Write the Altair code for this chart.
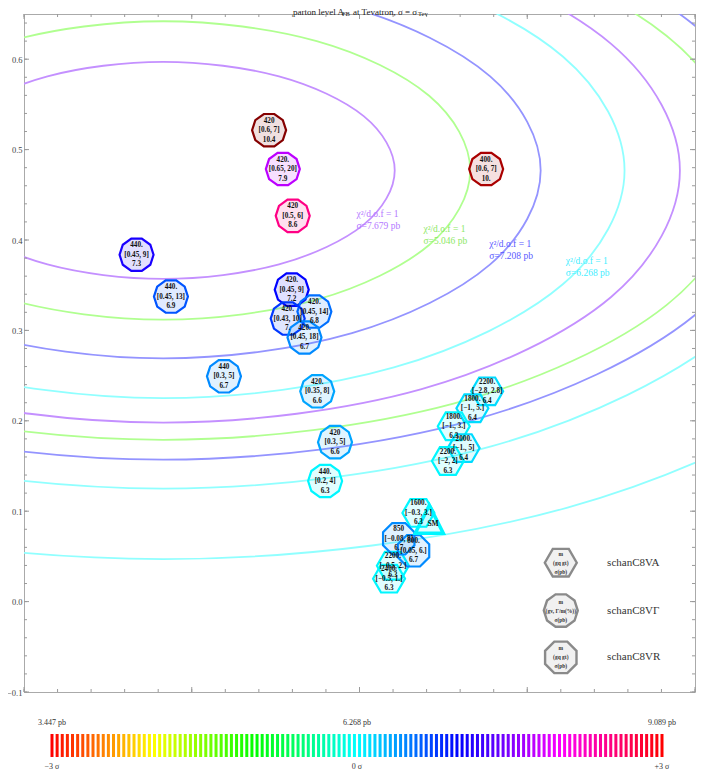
import math
import altair as alt
import pandas as pd

SERIF = "Liberation Serif"

# ---------------- contour curves ----------------
curve_names = ["P2", "G2", "B2", "C2", "C3", "P1", "G1", "B1", "C1"]
curve_colors = ["#c490ff", "#b0ff90", "#9494ff", "#90ffff", "#90ffff",
                "#c490ff", "#b0ff90", "#9494ff", "#90ffff"]
curve_x = {
    "P1": [0.021, 0.0025, -0.048, -0.117, -0.186, -0.2365, -0.255, -0.2365, -0.186, -0.117, -0.048, 0.0025],
    "G1": [0.066, 0.0415, -0.0255, -0.117, -0.2085, -0.2755, -0.300, -0.2755, -0.2085, -0.117, -0.0255, 0.0415],
    "B1": [0.108, 0.0779, -0.0045, -0.117, -0.2295, -0.3119, -0.342, -0.3119, -0.2295, -0.117, -0.0045, 0.0779],
    "C1": [0.158, 0.1212, 0.0205, -0.117, -0.2545, -0.3552, -0.392, -0.3552, -0.2545, -0.117, 0.0205, 0.1212],
    "P2": [0.191, 0.150, 0.037, -0.117, -0.271, -0.384, -0.425, -0.384, -0.271, -0.117, 0.037, 0.150],
    "G2": [0.229, 0.183, 0.056, -0.117, -0.290, -0.417, -0.463, -0.417, -0.290, -0.117, 0.056, 0.183],
    "B2": [0.249, 0.200, 0.066, -0.117, -0.300, -0.434, -0.483, -0.434, -0.300, -0.117, 0.066, 0.200],
    "C2": [0.274, 0.222, 0.079, -0.117, -0.313, -0.456, -0.508, -0.456, -0.313, -0.117, 0.079, 0.222],
    "C3": [0.364, 0.300, 0.124, -0.117, -0.358, -0.534, -0.598, -0.534, -0.358, -0.117, 0.124, 0.300],
}
curve_y = {
    "P1": [0.477, 0.537, 0.581, 0.597, 0.581, 0.537, 0.477, 0.417, 0.373, 0.357, 0.373, 0.417],
    "G1": [0.477, 0.5595, 0.620, 0.642, 0.620, 0.5595, 0.477, 0.3945, 0.334, 0.312, 0.334, 0.3945],
    "B1": [0.477, 0.581, 0.657, 0.685, 0.657, 0.581, 0.477, 0.373, 0.297, 0.269, 0.297, 0.373],
    "C1": [0.477, 0.603, 0.695, 0.729, 0.695, 0.603, 0.477, 0.351, 0.259, 0.225, 0.259, 0.351],
    "P2": [0.477, 0.617, 0.719, 0.756, 0.719, 0.617, 0.477, 0.337, 0.235, 0.198, 0.235, 0.337],
    "G2": [0.477, 0.626, 0.735, 0.775, 0.735, 0.626, 0.477, 0.328, 0.219, 0.179, 0.219, 0.328],
    "B2": [0.477, 0.637, 0.754, 0.797, 0.754, 0.637, 0.477, 0.317, 0.200, 0.157, 0.200, 0.317],
    "C2": [0.477, 0.653, 0.782, 0.829, 0.782, 0.653, 0.477, 0.301, 0.172, 0.125, 0.172, 0.301],
    "C3": [0.477, 0.692, 0.850, 0.908, 0.850, 0.692, 0.477, 0.262, 0.104, 0.047, 0.104, 0.262],
}

# contour annotations
clab_text1 = ["χ²/d.o.f = 1"] * 4
clab_text2 = ["σ=7.679 pb", "σ=5.046 pb", "σ=7.208 pb", "σ=6.268 pb"]
clab_x = [-0.0018, 0.0381, 0.0773, 0.1230]
clab_y1 = [0.4289, 0.4123, 0.3958, 0.3770]
clab_y2 = [0.4157, 0.3991, 0.3826, 0.3638]
clab_col = ["#b478ff", "#8ee866", "#5a5aff", "#44eeff"]

# ---------------- model points ----------------
mk_type = ["VG"] * 14 + ["VA"] * 8 + ["VR"] * 2
mk_x = [-0.0539, -0.0457, -0.0398, 0.0755, -0.1329, -0.1124, -0.0404, -0.0269, -0.0428,
        -0.0328, -0.0808, -0.0252, -0.0146, -0.0205,
        0.0761, 0.0673, 0.0562, 0.0621, 0.0527, 0.0351, 0.0199, 0.0176,
        0.0234, 0.0322]
mk_y = [0.5215, 0.4785, 0.4267, 0.4785, 0.3837, 0.3374, 0.3451, 0.3208, 0.3131,
        0.2922, 0.2492, 0.2326, 0.1764, 0.1334,
        0.2326, 0.2139, 0.1940, 0.1698, 0.1555, 0.0981, 0.0397, 0.0254,
        0.0695, 0.0562]
mk_mass = ["420", "420.", "420", "400.", "440.", "440.", "420.", "420.", "420.", "420.",
           "440", "420.", "420", "440.",
           "2200.", "1800.", "1800.", "2000.", "2200.", "1600.", "2200.", "2400.",
           "850", "800."]
mk_range = ["[0.6, 7]", "[0.65, 20]", "[0.5, 6]", "[0.6, 7]", "[0.45, 9]", "[0.45, 13]",
            "[0.45, 9]", "[0.45, 14]", "[0.43, 10]", "[0.45, 18]", "[0.3, 5]", "[0.35, 8]",
            "[0.3, 5]", "[0.2, 4]",
            "[−2.8, 2.8]", "[−1., 5.]", "[−1., 3.]", "[−1., 5]", "[−2, 2]", "[−0.3, 3.]",
            "[−0.5, 2.]", "[−0.5, 1.]",
            "[−0.08, 8]", "[0.05, 6.]"]
mk_sigma = ["10.4", "7.9", "8.6", "10.", "7.3", "6.9", "7.2", "6.8", "7.", "6.7",
            "6.7", "6.6", "6.6", "6.3",
            "6.4", "6.4", "6.3", "6.4", "6.3", "6.3", "6.3", "6.3",
            "6.7", "6.7"]

sm_x, sm_y, sm_pb = [0.0416], [0.0910], [6.3]

leg_names = ["schanC8VA", "schanC8VΓ", "schanC8VR"]
leg_type = ["VA", "VG", "VR"]
leg_inner = ["m\n(gq gt)\nσ(pb)", "m\n(gv, Γ/m(%))\nσ(pb)", "m\n(gq gt)\nσ(pb)"]
leg_x = [0.120, 0.120, 0.120]
leg_lx = [0.1476, 0.1476, 0.1476]
leg_y = [0.043, -0.0099, -0.0617]

# colour bar
cb_ends = [3.447, 9.089]
cb_n = 120
cb_top_labels = ["3.447 pb", "6.268 pb", "9.089 pb"]
cb_bot_labels = ["−3 σ", "0 σ", "+3 σ"]
cb_label_vals = [3.447, 6.268, 9.089]

pb_dom = [3.447, 4.387, 5.327, 6.268, 7.208, 8.149, 9.089, 10.0]
pb_rng = ["#ff0000", "#ffff00", "#00ff00", "#00ffff", "#0000ff", "#ff00ff", "#ff0000", "#aa0000"]

PADL, PADR, PADT, PADB = 16, 3, 6, 80
W, H = 690 - PADL - PADR, 678
OY = 8 + PADT  # page y of plot top


def poly_path(n, start_deg, r=1.0):
    pts = []
    for k in range(n):
        a = math.radians(start_deg + 360.0 * k / n)
        pts.append((r * math.cos(a), -r * math.sin(a)))
    return "M" + "L".join(f"{px:.4f},{py:.4f}" for px, py in pts) + "Z"


HEX = poly_path(6, 0, 0.94)
DEC = poly_path(10, 0, 1.0)
OCT = poly_path(8, 22.5, 1.0)
TRI = "M0,-1L1,1L-1,1Z"

shape_scale = alt.Scale(domain=["VA", "VG", "VR"], range=[HEX, DEC, OCT])
pb_scale = alt.Scale(domain=pb_dom, range=pb_rng, interpolate="rgb")

xs = alt.Scale(domain=[-0.2, 0.2], nice=False, zero=False)
ys = alt.Scale(domain=[-0.1, 0.65], nice=False, zero=False)
X = alt.X("x:Q", scale=xs, axis=alt.Axis(values=[-0.2, -0.1, 0.0, 0.1, 0.2], format=".1f",
          ticks=False, domain=False, grid=False, labelFont=SERIF, labelFontSize=8.5,
          labelColor="#444", labelPadding=5, title=None))
Y = alt.Y("y:Q", scale=ys, axis=alt.Axis(values=[-0.1, 0.0, 0.1, 0.2, 0.3, 0.4, 0.5, 0.6],
          format=".1f", ticks=False, domain=False, grid=False, labelFont=SERIF,
          labelFontSize=8.5, labelColor="#444", labelPadding=2, title=None))

# ----- layers -----
line_layers = []
for name, col in zip(curve_names, curve_colors):
    d = pd.DataFrame({"ord": list(range(len(curve_x[name]))), "x": curve_x[name], "y": curve_y[name]})
    line_layers.append(alt.Chart(d).mark_line(clip=True, strokeWidth=1.8, color=col,
                                              interpolate="cardinal-closed").encode(
        x=X, y=Y, order="ord:Q"))

df_cl = pd.DataFrame({"x": clab_x * 2, "y": clab_y1 + clab_y2,
                      "t": clab_text1 + clab_text2, "col": clab_col * 2})

df_m = pd.DataFrame({"x": mk_x, "y": mk_y, "type": mk_type,
                     "pb": [float(s) for s in mk_sigma],
                     "label": [f"{m}\n{r}\n{s}" for m, r, s in zip(mk_mass, mk_range, mk_sigma)]})
df_sm = pd.DataFrame({"x": sm_x, "y": sm_y, "pb": sm_pb})
df_smt = pd.DataFrame({"x": [0.0405], "y": [0.0860], "t": ["SM"]})

df_leg = pd.DataFrame({"x": leg_x, "y": leg_y, "type": leg_type, "inner": leg_inner,
                       "lx": leg_lx, "name": leg_names})

clabels = alt.Chart(df_cl).mark_text(align="left", baseline="middle", font=SERIF, fontSize=9.5).encode(
    x=X, y=Y, text="t:N", color=alt.Color("col:N", scale=None))

markers = alt.Chart(df_m).mark_point(filled=True, opacity=1, fillOpacity=0.12, strokeOpacity=1,
                                     strokeWidth=2.2, size=1156).encode(
    x=X, y=Y,
    shape=alt.Shape("type:N", scale=shape_scale, legend=None),
    fill=alt.Fill("pb:Q", scale=pb_scale, legend=None),
    stroke=alt.Stroke("pb:Q", scale=pb_scale, legend=None))

sm = alt.Chart(df_sm).mark_point(filled=True, opacity=1, fillOpacity=0.12, strokeOpacity=1,
                                 strokeWidth=3.5, size=784, shape=TRI).encode(
    x=X, y=Y,
    fill=alt.Fill("pb:Q", scale=pb_scale, legend=None),
    stroke=alt.Stroke("pb:Q", scale=pb_scale, legend=None))

mtext = alt.Chart(df_m).mark_text(lineBreak="\n", lineHeight=9.5, fontSize=7.2, font=SERIF,
                                  fontWeight="bold", baseline="middle", dy=-9.5,
                                  color="#111").encode(
    x=X, y=Y, text="label:N")

smtext = alt.Chart(df_smt).mark_text(fontSize=7.5, font=SERIF, fontWeight="bold",
                                     baseline="middle", align="left", color="#111").encode(
    x=X, y=Y, text="t:N")

leg_m = alt.Chart(df_leg).mark_point(filled=True, opacity=1, fill="#dddddd", fillOpacity=0.4,
                                     stroke="#8a8a8a", strokeWidth=2.4, size=1156).encode(
    x=X, y=Y, shape=alt.Shape("type:N", scale=shape_scale, legend=None))
leg_t = alt.Chart(df_leg).mark_text(lineBreak="\n", lineHeight=9, fontSize=5.5, font=SERIF,
                                    fontWeight="bold", baseline="middle", dy=-9,
                                    color="#333").encode(
    x=X, y=Y, text="inner:N")
leg_l = alt.Chart(df_leg).mark_text(align="left", baseline="middle", fontSize=11, font=SERIF,
                                    color="#333").encode(
    x=alt.X("lx:Q", scale=xs, axis=None), y=Y, text="name:N")

# frame ticks (inward)
xmaj = [-0.2, -0.1, 0.0, 0.1, 0.2]
xmin = [round(-0.2 + 0.02 * i, 2) for i in range(21)]
ymaj = [-0.1, 0.0, 0.1, 0.2, 0.3, 0.4, 0.5, 0.6]
ymin = [round(-0.1 + 0.02 * i, 2) for i in range(38)]
TC = "#9a9a9a"
tick_layers = []
for vals, ln in ((xmin, 3), (xmaj, 5)):
    d = pd.DataFrame({"x": vals})
    tick_layers.append(alt.Chart(d).mark_rule(color=TC, strokeWidth=1).encode(
        x=X, y=alt.value(H), y2=alt.value(H - ln)))
    tick_layers.append(alt.Chart(d).mark_rule(color=TC, strokeWidth=1).encode(
        x=X, y=alt.value(0), y2=alt.value(ln)))
for vals, ln in ((ymin, 3), (ymaj, 5)):
    d = pd.DataFrame({"y": vals})
    tick_layers.append(alt.Chart(d).mark_rule(color=TC, strokeWidth=1).encode(
        y=Y, x=alt.value(0), x2=alt.value(ln)))
    tick_layers.append(alt.Chart(d).mark_rule(color=TC, strokeWidth=1).encode(
        y=Y, x=alt.value(W), x2=alt.value(W - ln)))

# title pieces
one = pd.DataFrame({"a": [0]})
TY = -2.5
title_parts = [("parton level A", 269, TY, 9), ("FB", 318, TY + 2, 6.5),
               ("at Tevatron, σ = σ", 329, TY, 9), ("Tev", 394, TY + 2, 6.5)]
title_layers = [alt.Chart(one).mark_text(align="left", baseline="middle", font=SERIF,
                                         fontSize=fs, color="#222").encode(
    x=alt.value(px), y=alt.value(py), text=alt.value(t)) for t, px, py, fs in title_parts]

main = alt.layer(*line_layers, clabels, *tick_layers, markers, sm, mtext, smtext,
                 leg_m, leg_t, leg_l, *title_layers)

# colour bar
cb_vals = [cb_ends[0] + (cb_ends[1] - cb_ends[0]) * i / (cb_n - 1) for i in range(cb_n)]
df_cb = pd.DataFrame({"v": cb_vals})
# place 3.447 at page x 52 and 9.089 at page x 662
left_px, right_px = 52 - 8 - PADL, 662 - 8 - PADL
span = (cb_ends[1] - cb_ends[0]) * W / (right_px - left_px)
lo = cb_ends[0] - left_px / W * span
cbx = alt.Scale(domain=[lo, lo + span], nice=False, zero=False)
cbar = alt.Chart(df_cb).mark_rule(strokeWidth=3).encode(
    x=alt.X("v:Q", scale=cbx, axis=None), y=alt.value(734 - OY), y2=alt.value(757 - OY),
    stroke=alt.Stroke("v:Q", scale=pb_scale, legend=None))
df_cbl = pd.DataFrame({"v": cb_label_vals, "top": cb_top_labels, "bot": cb_bot_labels})
cb_top = alt.Chart(df_cbl).mark_text(font=SERIF, fontSize=8, color="#333", baseline="middle").encode(
    x=alt.X("v:Q", scale=cbx, axis=None), y=alt.value(723 - OY), text="top:N")
cb_bot = alt.Chart(df_cbl).mark_text(font=SERIF, fontSize=8, color="#333", baseline="middle").encode(
    x=alt.X("v:Q", scale=cbx, axis=None), y=alt.value(767 - OY), text="bot:N")
cbl = alt.layer(cbar, cb_top, cb_bot)

chart = alt.layer(main, cbl).resolve_scale(x="independent").properties(
    width=W, height=H,
    autosize=alt.AutoSizeParams(type="none"),
    padding={"left": PADL, "top": PADT, "right": PADR, "bottom": PADB},
    background="white",
).configure_view(stroke="#aaaaaa", strokeWidth=1)

chart.save("out.html", embed_options={"renderer": "svg", "actions": False})
